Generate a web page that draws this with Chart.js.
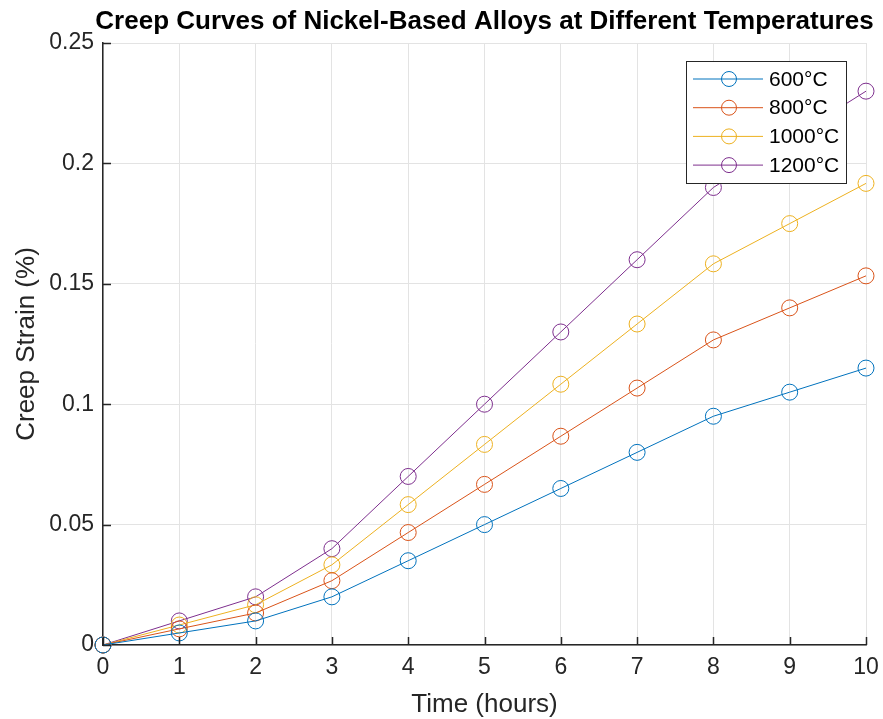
<!DOCTYPE html>
<html>
<head>
<meta charset="utf-8">
<script src="https://cdn.jsdelivr.net/npm/chart.js@4.4.1/dist/chart.umd.min.js"></script>
<style>
  body { margin: 0; background: #fff; }
  #wrap { width: 883px; height: 719px; }
</style>
</head>
<body>
<div id="wrap"><canvas id="chart" width="883" height="719"></canvas></div>
<script>
// time in hours
const hours = [0, 1, 2, 3, 4, 5, 6, 7, 8, 9, 10];
// creep strain (%) per temperature
const strain600 = [0, 0.005, 0.01, 0.02, 0.035, 0.05, 0.065, 0.08, 0.095, 0.105, 0.115];
const strain800 = [0, 0.0067, 0.0133, 0.0267, 0.0467, 0.0667, 0.0867, 0.1067, 0.1267, 0.14, 0.1533];
const strain1000 = [0, 0.0083, 0.0167, 0.0333, 0.0583, 0.0833, 0.1083, 0.1333, 0.1583, 0.175, 0.1917];
const strain1200 = [0, 0.01, 0.02, 0.04, 0.07, 0.1, 0.13, 0.16, 0.19, 0.21, 0.23];
const labels = ['600°C', '800°C', '1000°C', '1200°C'];
const yTicks = [0, 0.05, 0.1, 0.15, 0.2, 0.25];

const colors = ['#0072BD', '#D95319', '#EDB120', '#7E2F8E'];
const FONT = '"Liberation Sans", Arial, Helvetica, sans-serif';
const TITLE = 'Creep Curves of Nickel-Based Alloys at Different Temperatures';

const series = [strain600, strain800, strain1000, strain1200];
const datasets = series.map((vals, i) => ({
  label: labels[i],
  data: hours.map((h, j) => ({ x: h, y: vals[j] })),
  borderColor: colors[i],
  backgroundColor: 'rgba(0,0,0,0)',
  borderWidth: 1,
  pointRadius: 8,
  pointHoverRadius: 8,
  pointBorderWidth: 1,
  pointBorderColor: colors[i],
  pointBackgroundColor: 'rgba(0,0,0,0)',
  tension: 0,
  clip: false,
}));

// inward tick marks like matlab
const inwardTicks = {
  id: 'inwardTicks',
  afterDatasetsDraw(chart) {
    const { ctx, chartArea, scales } = chart;
    ctx.save();
    ctx.strokeStyle = '#262626';
    ctx.lineWidth = 1.5;
    ctx.beginPath();
    scales.x.ticks.forEach(t => {
      const px = Math.round(scales.x.getPixelForValue(t.value)) + 0.5;
      ctx.moveTo(px, chartArea.bottom);
      ctx.lineTo(px, chartArea.bottom - 8);
    });
    scales.y.ticks.forEach(t => {
      const py = Math.round(scales.y.getPixelForValue(t.value)) + 0.5;
      ctx.moveTo(chartArea.left, py);
      ctx.lineTo(chartArea.left + 8, py);
    });
    ctx.stroke();
    ctx.restore();
  }
};

// title centred over the axes, legend box in the upper right
const boxLegend = {
  id: 'boxLegend',
  afterDraw(chart) {
    const { ctx, chartArea } = chart;
    ctx.save();
    ctx.fillStyle = '#000';
    ctx.font = 'bold 26px ' + FONT;
    ctx.textAlign = 'center';
    ctx.textBaseline = 'alphabetic';
    ctx.fillText(TITLE, (chartArea.left + chartArea.right) / 2, 29);

    const x0 = 686, y0 = 61, w = 160, h = 122;
    ctx.textAlign = 'left';
    ctx.fillStyle = '#fff';
    ctx.fillRect(x0, y0, w, h);
    ctx.strokeStyle = '#262626';
    ctx.lineWidth = 1;
    ctx.strokeRect(x0 + 0.5, y0 + 0.5, w, h);
    ctx.font = '21px ' + FONT;
    ctx.textBaseline = 'middle';
    chart.data.datasets.forEach((ds, i) => {
      const cy = y0 + 18 + i * 28.7;
      ctx.strokeStyle = ds.borderColor;
      ctx.beginPath();
      ctx.moveTo(x0 + 7, cy);
      ctx.lineTo(x0 + 77, cy);
      ctx.stroke();
      ctx.beginPath();
      ctx.arc(x0 + 43, cy, 7.5, 0, Math.PI * 2);
      ctx.stroke();
      ctx.fillStyle = '#000';
      ctx.fillText(ds.label, x0 + 83, cy + 1);
    });
    ctx.restore();
  }
};

new Chart(document.getElementById('chart').getContext('2d'), {
  type: 'line',
  data: { datasets },
  options: {
    responsive: false,
    animation: false,
    layout: { padding: { left: 0, right: 17, top: 43, bottom: 0 } },
    plugins: {
      legend: { display: false },
      tooltip: { enabled: false },
      title: { display: false },
    },
    scales: {
      x: {
        type: 'linear',
        min: 0,
        max: 10,
        afterBuildTicks: s => { s.ticks = hours.map(v => ({ value: v })); },
        ticks: { color: '#262626', font: { family: FONT, size: 23 }, padding: 9 },
        grid: { color: '#e3e3e3', drawTicks: false },
        border: { color: '#262626', width: 1.5 },
        title: {
          display: true,
          text: 'Time (hours)',
          color: '#262626',
          font: { family: FONT, size: 26, lineHeight: 1.1 },
          padding: { top: 0, bottom: 0 },
        },
        afterFit: s => { s.height = 74; s.paddingLeft = 0; s.paddingRight = 0; },
      },
      y: {
        min: 0,
        max: 0.25,
        afterBuildTicks: s => { s.ticks = yTicks.map(v => ({ value: v })); },
        ticks: {
          color: '#262626',
          font: { family: FONT, size: 23 },
          padding: 9,
          callback: v => String(v),
        },
        grid: { color: '#e3e3e3', drawTicks: false },
        border: { color: '#262626', width: 1.5 },
        title: {
          display: true,
          text: 'Creep Strain (%)',
          color: '#262626',
          font: { family: FONT, size: 26, lineHeight: 1.1 },
          padding: { top: 13, bottom: 0 },
        },
        afterFit: s => { s.width = 103; s.paddingTop = 0; s.paddingBottom = 0; },
      },
    },
  },
  plugins: [inwardTicks, boxLegend],
});
</script>
</body>
</html>
